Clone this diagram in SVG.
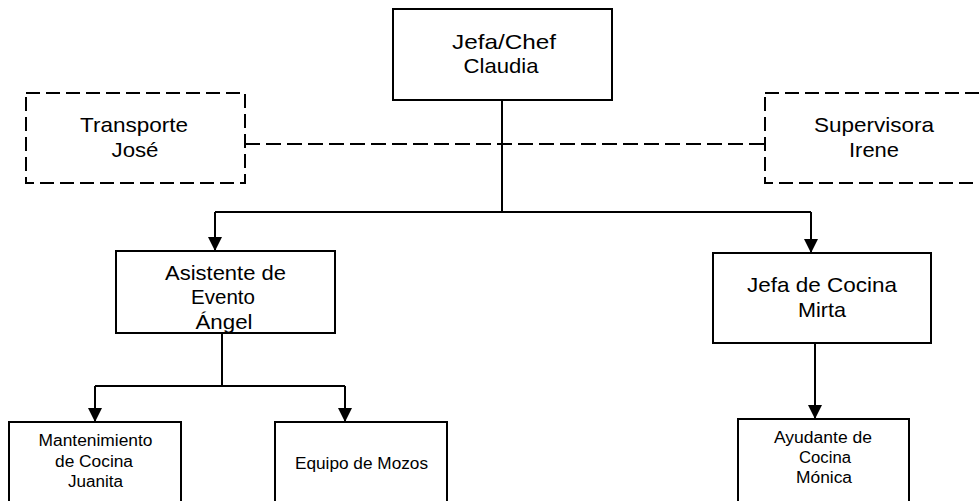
<svg xmlns="http://www.w3.org/2000/svg" width="979" height="501" viewBox="0 0 979 501">
  <style>
    .box { fill: #ffffff; stroke: #000000; stroke-width: 2; }
    .dash { fill: #ffffff; stroke: #000000; stroke-width: 2; stroke-dasharray: 14 6; }
    .wire { fill: none; stroke: #000000; stroke-width: 2; }
    .wire-dash { fill: none; stroke: #000000; stroke-width: 2; stroke-dasharray: 15 6; }
    .big { font-family: "Liberation Sans", Arial, sans-serif; font-size: 21px; fill: #000000; text-anchor: middle; }
    .small { font-family: "Liberation Sans", Arial, sans-serif; font-size: 16px; fill: #000000; text-anchor: middle; }
  </style>
  <defs>
    <marker id="arrow" markerUnits="userSpaceOnUse" markerWidth="14" markerHeight="14" viewBox="0 0 14 14" refX="14" refY="7" orient="auto">
      <path d="M0,0 L14,7 L0,14 Z" fill="#000000"/>
    </marker>
    <clipPath id="clipAsistente"><rect x="117" y="252" width="217" height="80"/></clipPath>
  </defs>
  <rect width="979" height="501" fill="#ffffff"/>

  <!-- connectors -->
  <g id="connectors">
    <path class="wire-dash" d="M245,144 H765"/>
    <path class="wire" d="M502,100 V212"/>
    <path class="wire" d="M215,212 H811"/>
    <path class="wire" d="M215,212 V251" marker-end="url(#arrow)"/>
    <path class="wire" d="M811,212 V253" marker-end="url(#arrow)"/>
    <path class="wire" d="M222,333 V386"/>
    <path class="wire" d="M95,386 H345"/>
    <path class="wire" d="M95,386 V422" marker-end="url(#arrow)"/>
    <path class="wire" d="M345,386 V422" marker-end="url(#arrow)"/>
    <path class="wire" d="M815,343 V419" marker-end="url(#arrow)"/>
  </g>

  <g id="chef">
    <rect class="box" x="393" y="9" width="219" height="91"/>
    <text class="big" x="504" y="49" textLength="104" lengthAdjust="spacingAndGlyphs">Jefa/Chef</text>
    <text class="big" x="501" y="73" textLength="75" lengthAdjust="spacingAndGlyphs">Claudia</text>
  </g>

  <g id="transporte">
    <rect class="dash" x="26" y="93" width="219" height="90"/>
    <text class="big" x="134" y="132" textLength="108" lengthAdjust="spacingAndGlyphs">Transporte</text>
    <text class="big" x="135" y="157" textLength="47" lengthAdjust="spacingAndGlyphs">José</text>
  </g>

  <g id="supervisora">
    <rect class="dash" x="765" y="93" width="219" height="90"/>
    <text class="big" x="874" y="132" textLength="120" lengthAdjust="spacingAndGlyphs">Supervisora</text>
    <text class="big" x="874" y="157" textLength="50" lengthAdjust="spacingAndGlyphs">Irene</text>
  </g>

  <g id="asistente">
    <rect class="box" x="116" y="251" width="219" height="82"/>
    <g clip-path="url(#clipAsistente)">
      <text class="big" x="225.5" y="280" textLength="121" lengthAdjust="spacingAndGlyphs">Asistente de</text>
      <text class="big" x="223" y="304" textLength="64" lengthAdjust="spacingAndGlyphs">Evento</text>
      <text class="big" x="224" y="329" textLength="57" lengthAdjust="spacingAndGlyphs">Ángel</text>
    </g>
  </g>

  <g id="jefa-cocina">
    <rect class="box" x="713" y="253" width="218" height="90"/>
    <text class="big" x="822" y="292" textLength="150" lengthAdjust="spacingAndGlyphs">Jefa de Cocina</text>
    <text class="big" x="822" y="317" textLength="48" lengthAdjust="spacingAndGlyphs">Mirta</text>
  </g>

  <g id="mantenimiento">
    <rect class="box" x="9" y="422" width="172" height="100"/>
    <text class="small" x="95.5" y="446" textLength="114" lengthAdjust="spacingAndGlyphs">Mantenimiento</text>
    <text class="small" x="94" y="467" textLength="78" lengthAdjust="spacingAndGlyphs">de Cocina</text>
    <text class="small" x="95.5" y="487" textLength="55" lengthAdjust="spacingAndGlyphs">Juanita</text>
  </g>

  <g id="mozos">
    <rect class="box" x="275" y="422" width="172" height="100"/>
    <text class="small" x="361.5" y="469" textLength="133" lengthAdjust="spacingAndGlyphs">Equipo de Mozos</text>
  </g>

  <g id="ayudante">
    <rect class="box" x="738" y="419" width="171" height="100"/>
    <text class="small" x="823" y="443" textLength="98" lengthAdjust="spacingAndGlyphs">Ayudante de</text>
    <text class="small" x="825" y="463" textLength="52" lengthAdjust="spacingAndGlyphs">Cocina</text>
    <text class="small" x="824" y="483" textLength="56" lengthAdjust="spacingAndGlyphs">Mónica</text>
  </g>
</svg>
